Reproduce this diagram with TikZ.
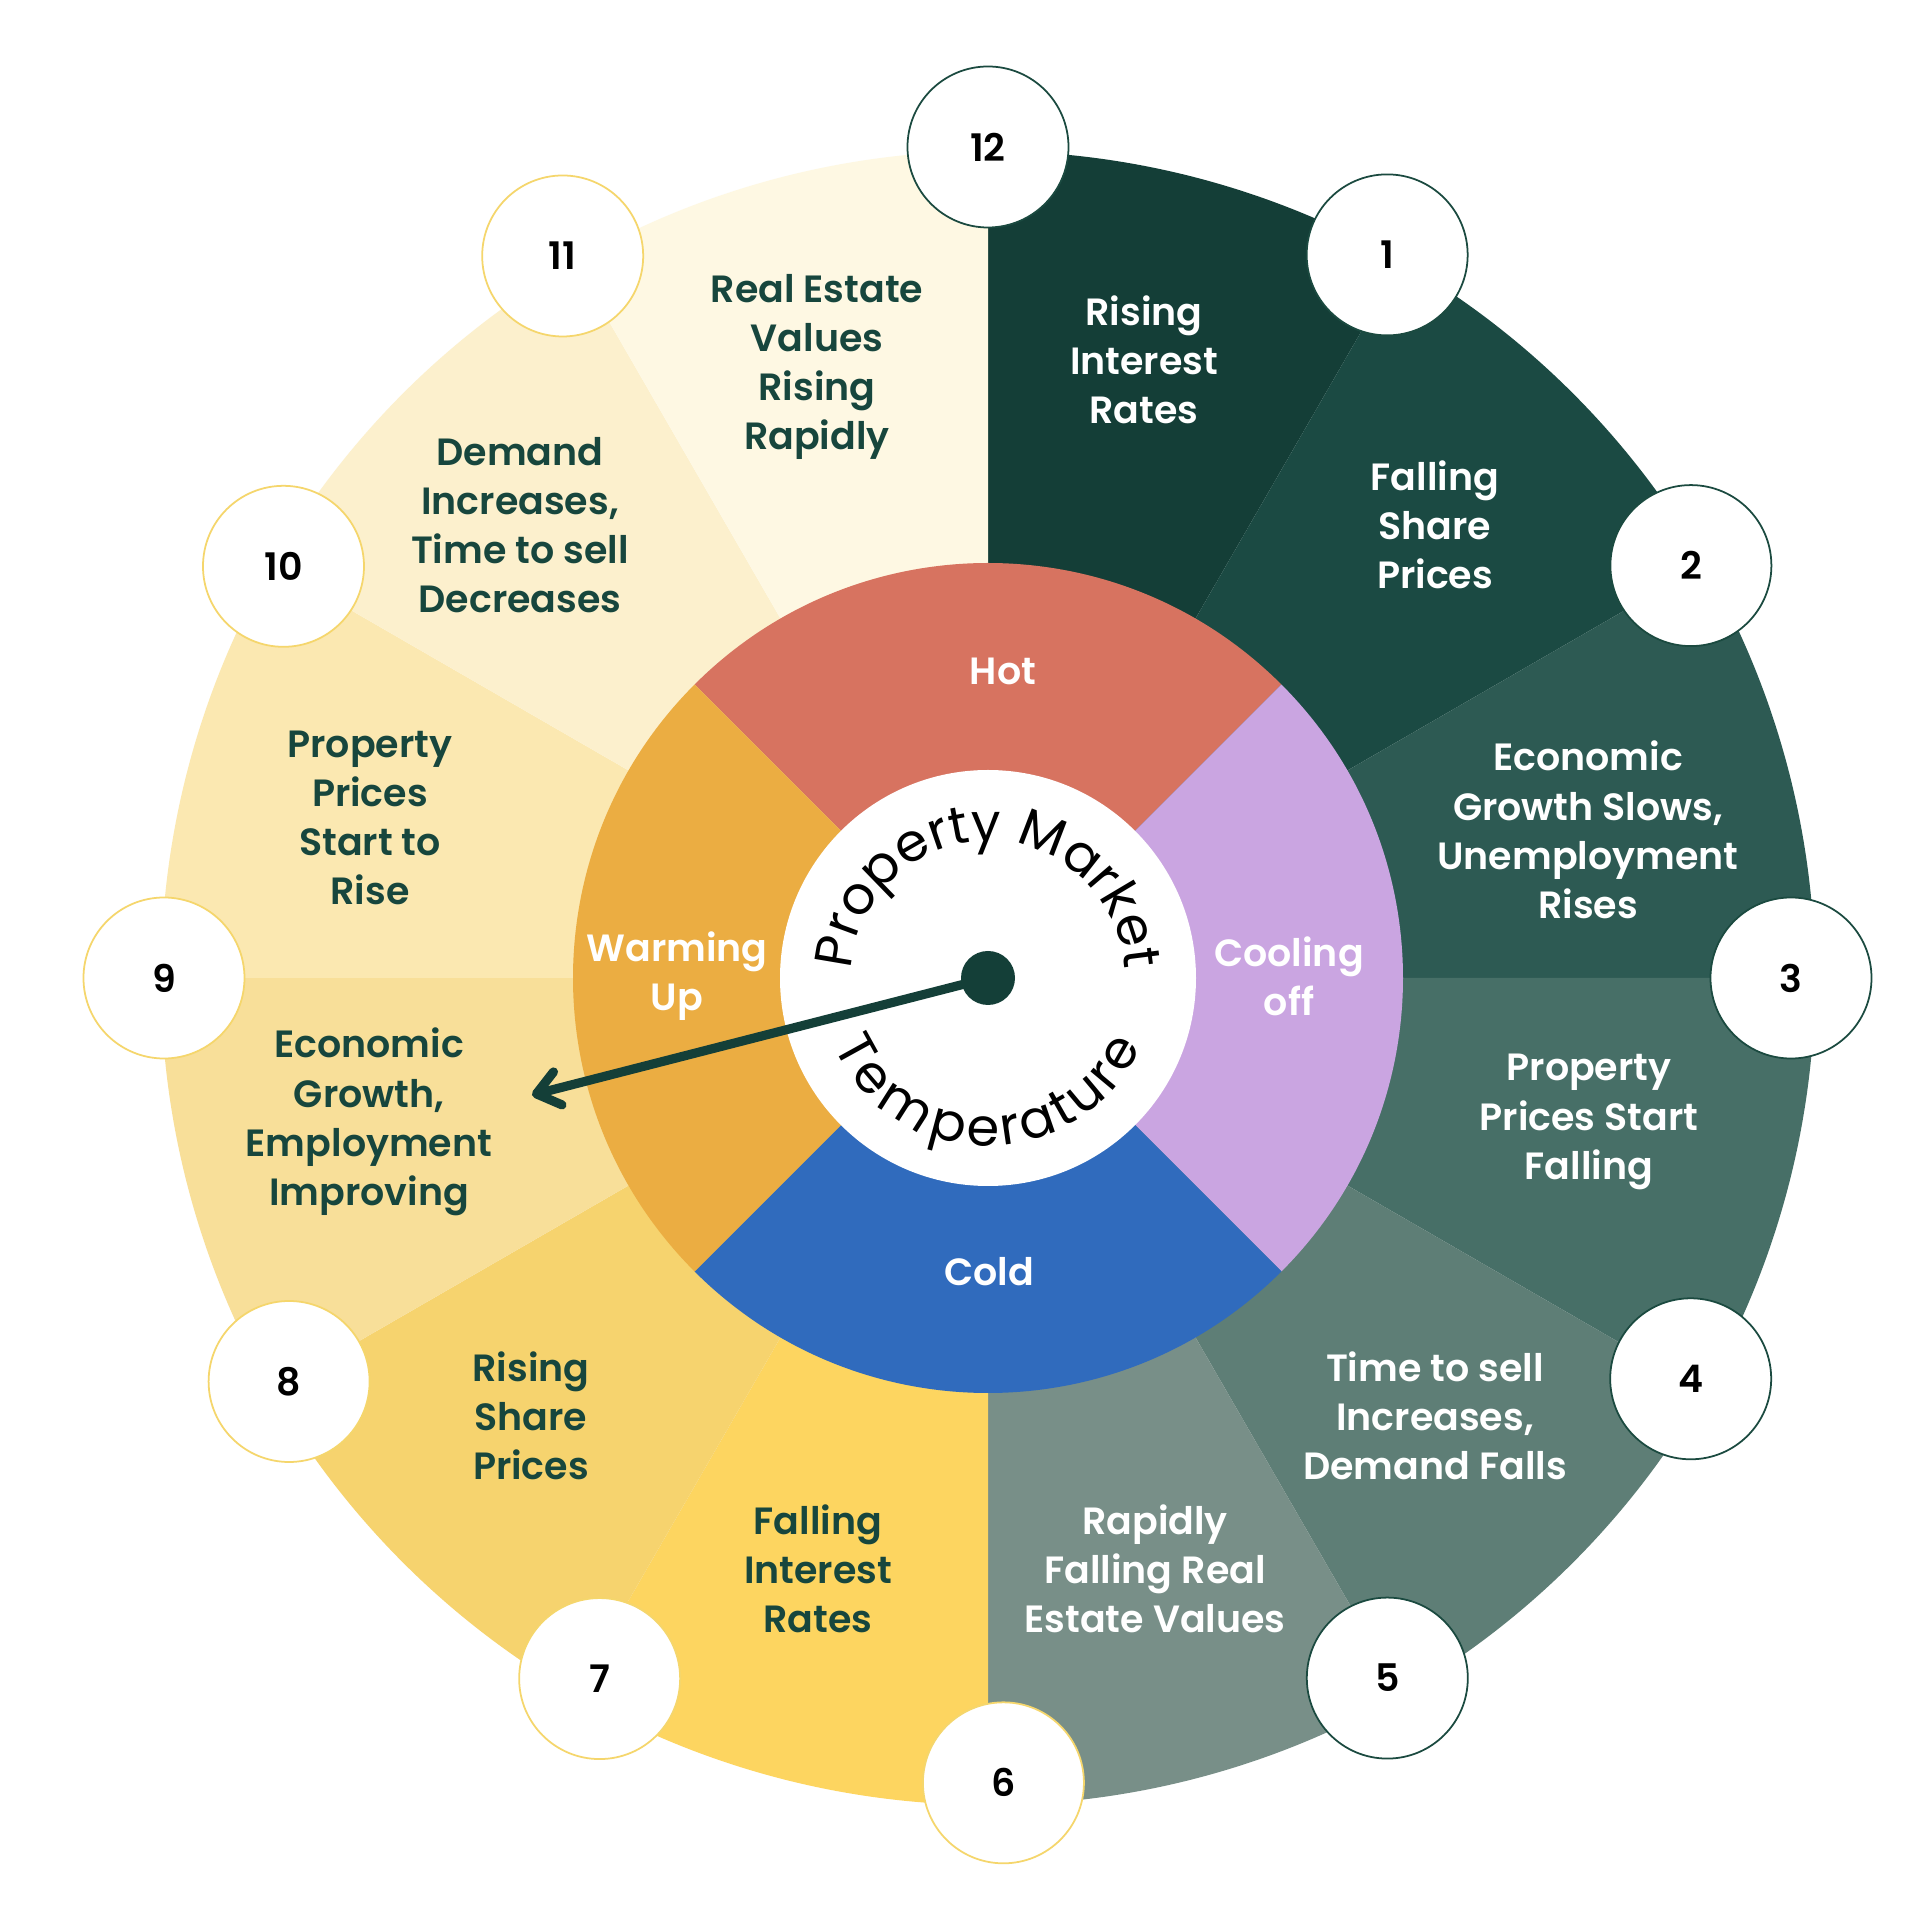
\documentclass[tikz,border=0pt]{standalone}
\usepackage{fontspec}
\setmainfont{Poppins}[BoldFont={Poppins SemiBold}]
\usepackage{tikz}
\usetikzlibrary{arrows.meta}
\usetikzlibrary{decorations.text}

\definecolor{wheelA}{HTML}{143E37}
\definecolor{wheelB}{HTML}{1B4A43}
\definecolor{wheelC}{HTML}{2D5A53}
\definecolor{wheelD}{HTML}{476F67}
\definecolor{wheelE}{HTML}{5E7E76}
\definecolor{wheelF}{HTML}{788F88}
\definecolor{wheelG}{HTML}{FDD560}
\definecolor{wheelH}{HTML}{F6D36E}
\definecolor{wheelI}{HTML}{F8DF99}
\definecolor{wheelJ}{HTML}{FBE8B1}
\definecolor{wheelK}{HTML}{FCF0CD}
\definecolor{wheelL}{HTML}{FEF8E3}
\definecolor{hotred}{HTML}{D77360}
\definecolor{coolviolet}{HTML}{CAA5E1}
\definecolor{coldblue}{HTML}{306BBD}
\definecolor{warmorange}{HTML}{EBAD42}
\definecolor{textgreen}{HTML}{17463D}
\definecolor{needle}{HTML}{143F38}
\definecolor{rimdark}{HTML}{1B4A40}
\definecolor{rimyellow}{HTML}{F5D66C}

\newcommand{\labelfont}{\fontsize{10.8}{14}\selectfont\bfseries}
\newcommand{\topfont}{\fontsize{15}{18}\selectfont}
\newcommand{\bottomfont}{\fontsize{15}{18}\selectfont}

\tikzset{
  numdisc/.style={circle, fill=white, draw=#1, line width=0.5pt,
    minimum size=1.61cm, inner sep=0pt, font=\labelfont, text=black},
  darklabel/.style={align=center, font=\labelfont, text=textgreen},
  lightlabel/.style={align=center, font=\labelfont, text=white},
  pointer/.style={draw=needle, line width=2.6pt, line cap=round,
    -{Straight Barb[length=2.2mm, width=3.4mm, round]}}
}

\begin{document}
\begin{tikzpicture}

  \fill[white] (-9.88,-9.42) rectangle (9.32,9.78);
  \useasboundingbox (-9.88,-9.42) rectangle (9.32,9.78);

  % outer wheel, twelve months
  \foreach \a/\c in {60/wheelA, 30/wheelB, 0/wheelC, -30/wheelD,
    -60/wheelE, -90/wheelF, -120/wheelG, -150/wheelH,
    180/wheelI, 150/wheelJ, 120/wheelK, 90/wheelL} {
    \fill[\c] (0,0) -- (\a:8.27) arc (\a:\a+30:8.27) -- cycle;
  }

  % temperature ring
  \foreach \a/\c in {45/hotred, -45/coolviolet, -135/coldblue, 135/warmorange} {
    \fill[\c] (0,0) -- (\a:4.15) arc (\a:\a+90:4.15) -- cycle;
  }
  \fill[white] (0,0) circle (2.08);

  % curved title
  \path[decorate, decoration={text along path, text align=center,
    text={|\topfont|Property Market}}] (178:1.37) arc (178:2:1.37);
  \path[decorate, decoration={text along path, text align=center, raise=-0.2cm,
    text={|\bottomfont|Temperature}}] (-172:1.48) arc (-172:-8:1.48);

  % ring labels
  \node[lightlabel] (hot) at (0.15,3.07) {Hot};
  \node[lightlabel] (cooling) at (3.01,0.02) {Cooling\\off};
  \node[lightlabel] (cold) at (0.01,-2.94) {Cold};
  \node[lightlabel] (warming) at (-3.11,0.02) {Warming\\Up};

  % wheel labels
  \node[lightlabel] (risingrates) at (1.56,6.18) {Rising\\Interest\\Rates};
  \node[lightlabel] (fallingshares) at (4.47,4.53) {Falling\\Share\\Prices};
  \node[lightlabel] (growthslows) at (6.00,1.48) {Economic\\Growth Slows,\\Unemployment\\Rises};
  \node[lightlabel] (pricesfall) at (6.01,-1.44) {Property\\Prices Start\\Falling};
  \node[lightlabel] (sellslow) at (4.47,-4.38) {Time to sell\\Increases,\\Demand Falls};
  \node[lightlabel] (valuesfall) at (1.67,-5.91) {Rapidly\\Falling Real\\Estate Values};
  \node[darklabel] (fallingrates) at (-1.70,-5.91) {Falling\\Interest\\Rates};
  \node[darklabel] (risingshares) at (-4.57,-4.38) {Rising\\Share\\Prices};
  \node[darklabel] (growthup) at (-6.19,-1.44) {Economic\\Growth,\\Employment\\Improving};
  \node[darklabel] (pricesrise) at (-6.18,1.60) {Property\\Prices\\Start to\\Rise};
  \node[darklabel] (demandup) at (-4.68,4.53) {Demand\\Increases,\\Time to sell\\Decreases};
  \node[darklabel] (valuesrise) at (-1.71,6.11) {Real Estate\\Values\\Rising\\Rapidly};

  % needle
  \coordinate (tip) at (-4.56,-1.17);
  \node[circle, fill=needle, minimum size=0.54cm, inner sep=0pt] (hub) at (0,0) {};
  \draw[pointer] (hub.center) -- (tip);

  % month discs
  \foreach \n/\a/\r/\c in {12/90/8.31/rimdark, 1/61.1/8.26/rimdark,
    2/30.4/8.15/rimdark, 3/0/8.03/rimdark, 4/-29.7/8.09/rimdark,
    5/-60.3/8.06/rimdark, 6/-88.9/8.05/rimyellow, 7/-119/8.01/rimyellow,
    8/-150/8.07/rimyellow, 9/180/8.24/rimyellow, 10/149.7/8.16/rimyellow,
    11/120.5/8.38/rimyellow} {
    \node[numdisc=\c] (m\n) at (\a:\r) {\n};
  }

\end{tikzpicture}
\end{document}
